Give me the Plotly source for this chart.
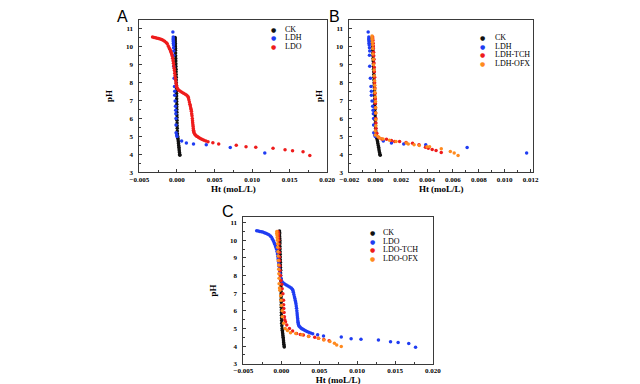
import plotly.graph_objects as go

# ---------------- data ----------------
ck_x = [-0.00025, -0.00025, -0.00024, -0.00024, -0.00023, -0.00022, -0.00021, -0.0002, -0.0002, -0.00019,
        -0.00018, -0.00017, -0.00016, -0.00015, -0.00014, -0.00013, -0.00012, -0.00011, -0.0001, -0.0001,
        -0.00009, -0.00008, -0.00007, -0.00006, -0.00005, -0.00005, -0.00004, -0.00004, -0.00003, -0.00003,
        -0.00002, -0.00002, -0.00001, 0.0, 0.0, 0.00001, 0.00002, 0.00003, 0.00004, 0.00006,
        0.0001, 0.00012, 0.00015, 0.00018, 0.0002, 0.00023, 0.00026, 0.00028, 0.0003, 0.00033,
        0.00036, 0.00038]
ck_y = [10.52, 10.45, 10.38, 10.3, 10.2, 10.1, 10.0, 9.9, 9.8, 9.65,
        9.5, 9.35, 9.2, 9.05, 8.9, 8.75, 8.6, 8.45, 8.3, 8.15,
        8.0, 7.85, 7.7, 7.55, 7.4, 7.25, 7.1, 6.95, 6.8, 6.65,
        6.5, 6.35, 6.2, 6.05, 5.9, 5.75, 5.6, 5.45, 5.3, 5.15,
        5.0, 4.9, 4.8, 4.7, 4.6, 4.5, 4.4, 4.3, 4.2, 4.1,
        4.0, 3.95]

ldh_x = [-0.00055, -0.0005, -0.0005, -0.0005, -0.00048, -0.00048, -0.00047, -0.00045, -0.00043, -0.00045,
         -0.00043, -0.00038, -0.00033, -0.0003, -0.0003, -0.00025, -0.0002, -0.00017, -0.00015, -0.00013,
         -0.00013, -0.00012, -0.00005, 0.0, 0.00062, 0.00125, 0.0022, 0.0039, 0.0071, 0.0117]
ldh_y = [10.83, 10.55, 10.45, 10.38, 10.3, 10.2, 10.1, 9.95, 9.77, 9.53,
         8.92, 8.24, 7.78, 7.52, 7.29, 6.97, 6.68, 6.46, 6.27, 6.0,
         5.63, 5.2, 5.08, 5.0, 4.75, 4.63, 4.58, 4.53, 4.38, 4.08]

ldo_x = [-0.00326, -0.00305, -0.00285, -0.00265, -0.00245, -0.00225, -0.00205, -0.00185, -0.00165, -0.00145,
         -0.0013, -0.00117, -0.00105, -0.00095, -0.00086, -0.00078, -0.00071, -0.00065, -0.00058, -0.00052,
         -0.00047, -0.00043, -0.00038, -0.00034, -0.0003, -0.00026, -0.00022, -0.00017, -0.00012, -0.00008,
         -0.00002, 0.0001, 0.00025, 0.00044, 0.00065, 0.00087, 0.0011, 0.0013, 0.00145, 0.00152,
         0.00158, 0.00165, 0.00172, 0.00178, 0.00183, 0.00188, 0.00192, 0.00196, 0.002, 0.00204,
         0.00207, 0.00209, 0.00212, 0.00215, 0.00217, 0.0022, 0.00223, 0.00226, 0.00235, 0.00245,
         0.00258, 0.0027, 0.00285, 0.003, 0.00318, 0.00338, 0.0036, 0.00385, 0.00413, 0.00478,
         0.00556, 0.0079, 0.0092, 0.0105, 0.0128, 0.0144, 0.0154, 0.0168, 0.0177]
ldo_y = [10.54, 10.52, 10.5, 10.48, 10.46, 10.43, 10.4, 10.36, 10.31, 10.24,
         10.17, 10.05, 9.95, 9.86, 9.77, 9.68, 9.59, 9.5, 9.36, 9.22,
         9.08, 8.94, 8.8, 8.67, 8.53, 8.39, 8.25, 8.11, 7.97, 7.84,
         7.74, 7.65, 7.58, 7.52, 7.46, 7.41, 7.35, 7.29, 7.22, 7.15,
         7.05, 6.92, 6.8, 6.7, 6.59, 6.5, 6.4, 6.27, 6.15, 6.0,
         5.88, 5.76, 5.65, 5.55, 5.44, 5.35, 5.27, 5.21, 5.13, 5.08,
         5.03, 4.99, 4.95, 4.91, 4.87, 4.83, 4.79, 4.75, 4.7, 4.64,
         4.58, 4.51, 4.42, 4.39, 4.34, 4.25, 4.2, 4.15, 3.93]

ldh_tch_x = [-0.0002, -0.0002, -0.00018, -0.00017, -0.00015, -0.00015, -0.00013, -0.00012, -0.0001, -0.0001,
             -0.00008, -0.00007, -0.00005, -0.00005, -0.00003, -0.00002, 0.0, 0.0, 0.00002, 0.00003,
             0.00004, 0.00005, 0.00005, 0.00012, 0.00025, 0.0005, 0.00087, 0.00125, 0.0015, 0.00188,
             0.00238, 0.00288, 0.00338, 0.00388, 0.0041, 0.0044, 0.0047, 0.0051]
ldh_tch_y = [10.55, 10.45, 10.35, 10.2, 10.05, 9.9, 9.7, 9.5, 9.3, 9.1,
             8.85, 8.6, 8.3, 8.0, 7.7, 7.4, 7.1, 6.85, 6.6, 6.3,
             6.0, 5.75, 5.44, 5.17, 4.95, 4.86, 4.84, 4.77, 4.72, 4.71,
             4.66, 4.62, 4.53, 4.4, 4.34, 4.27, 4.22, 4.1]

ldh_ofx_x = [-0.00025, -0.00025, -0.00024, -0.00022, -0.0002, -0.0002, -0.00018, -0.00015, -0.00013, -0.0001,
             -0.00008, -0.00005, -0.00004, -0.00003, -0.00002, 0.0, 0.00002, 0.00003, 0.00004, 0.00004,
             0.00004, 0.0, 0.0, 0.0002, 0.00037, 0.0006, 0.0011, 0.0016, 0.0024, 0.00255,
             0.003, 0.0034, 0.004, 0.0042, 0.0051, 0.0058, 0.0061, 0.0064]
ldh_ofx_y = [10.6, 10.5, 10.4, 10.25, 10.1, 9.9, 9.6, 9.3, 9.0, 8.7,
             8.39, 8.1, 7.85, 7.65, 7.45, 7.2, 6.95, 6.6, 6.3, 5.95,
             5.6, 5.3, 5.08, 4.99, 4.9, 4.85, 4.78, 4.71, 4.63, 4.58,
             4.54, 4.49, 4.43, 4.42, 4.31, 4.16, 4.07, 3.94]

ldo_tch_x = [-0.00045, -0.0004, -0.0004, -0.00038, -0.00035, -0.00032, -0.0003, -0.00027, -0.00025, -0.00023,
             -0.0002, -0.00018, -0.00012, -0.00005, 0.00005, 0.0001, 0.0002, 0.00028, 0.0003, 0.00032,
             0.00035, 0.0004, 0.00045, 0.00054, 0.00071, 0.00106, 0.00148, 0.002, 0.0025, 0.0029,
             0.0036, 0.0044, 0.0049, 0.0056, 0.0063]
ldo_tch_y = [10.49, 10.4, 10.3, 10.15, 10.0, 9.78, 9.55, 9.3, 9.05, 8.84,
             8.55, 8.28, 8.0, 7.72, 7.5, 7.25, 6.97, 6.6, 6.35, 6.13,
             5.9, 5.66, 5.5, 5.38, 5.19, 5.0, 4.85, 4.71, 4.66, 4.63,
             4.56, 4.5, 4.44, 4.37, 4.3]

ldo_ofx_x = [-0.0006, -0.0006, -0.00058, -0.00055, -0.00052, -0.0005, -0.00048, -0.00045, -0.00042, -0.0004,
             -0.00037, -0.00035, -0.00033, -0.0003, -0.0003, -0.00025, -0.0002, -0.0001, -0.00005, 0.0,
             0.0001, 0.00012, 0.0003, 0.0005, 0.0008, 0.0012, 0.0019, 0.0027, 0.0036, 0.0049,
             0.0056, 0.0064, 0.007, 0.0073, 0.0079]
ldo_ofx_y = [10.5, 10.4, 10.3, 10.15, 10.0, 9.8, 9.6, 9.35, 9.1, 8.85,
             8.6, 8.35, 8.1, 7.85, 7.53, 7.3, 7.16, 6.85, 6.6, 6.3,
             6.0, 5.66, 5.29, 5.0, 4.88, 4.76, 4.72, 4.65, 4.55, 4.44,
             4.35, 4.26, 4.16, 4.07, 3.98]

BLACK, BLUE, RED, ORANGE = "#111111", "#1f3cf2", "#ee1c1c", "#ff8a1e"

panels = [
    ("", [("CK", ck_x, ck_y, BLACK), ("LDH", ldh_x, ldh_y, BLUE), ("LDO", ldo_x, ldo_y, RED)]),
    ("2", [("CK", ck_x, ck_y, BLACK), ("LDH", ldh_x, ldh_y, BLUE),
           ("LDH-TCH", ldh_tch_x, ldh_tch_y, RED), ("LDH-OFX", ldh_ofx_x, ldh_ofx_y, ORANGE)]),
    ("3", [("CK", ck_x, ck_y, BLACK), ("LDO", ldo_x, ldo_y, BLUE),
           ("LDO-TCH", ldo_tch_x, ldo_tch_y, RED), ("LDO-OFX", ldo_ofx_x, ldo_ofx_y, ORANGE)]),
]

W, H = 640, 384
fig = go.Figure()
for suf, series in panels:
    for name, xs, ys, col in series:
        fig.add_trace(go.Scatter(x=xs, y=ys, mode="markers", name=name,
                                 marker=dict(size=3.5, color=col, line=dict(width=0)),
                                 xaxis="x" + suf, yaxis="y" + suf, showlegend=False))

tickfont = dict(family="Liberation Serif", size=7, color="black", weight="bold")
titlefont = dict(family="Liberation Serif", size=9, color="black", weight="bold")
LC = "#3a3a3a"


def xax(domain, rng, dtick, anchor):
    return dict(domain=domain, range=rng, dtick=dtick, tick0=0, tickformat=".3f", anchor=anchor,
                showline=True, mirror=True, linecolor=LC, linewidth=1, showgrid=False, zeroline=False,
                ticks="inside", ticklen=3, tickcolor=LC, tickfont=tickfont, ticklabelstandoff=0,
                minor=dict(ticks="inside", ticklen=2, tickcolor=LC, dtick=dtick / 2),
                title=dict(text="Ht (moL/L)", font=titlefont, standoff=0))


def yax(domain, rng, anchor):
    return dict(domain=domain, range=rng, dtick=1, anchor=anchor,
                showline=True, mirror=True, linecolor=LC, linewidth=1, showgrid=False, zeroline=False,
                ticks="inside", ticklen=3, tickcolor=LC, tickfont=tickfont, ticklabelstandoff=4,
                minor=dict(ticks="inside", ticklen=2, tickcolor=LC, dtick=0.5),
                title=dict(text="pH", font=titlefont, standoff=11))


def px(x):
    return x / W


def py(y):
    return 1 - y / H


fig.update_layout(
    width=W, height=H, autosize=False, margin=dict(l=0, r=0, t=0, b=0),
    paper_bgcolor="white", plot_bgcolor="white",
    xaxis=xax([px(125), px(318)], [-0.005, 0.020], 0.005, "y"),
    yaxis=yax([py(166), py(12)], [3, 11.5], "x"),
    xaxis2=xax([px(341), px(530)], [-0.002, 0.0122], 0.002, "y2"),
    yaxis2=yax([py(166), py(12)], [3, 11.5], "x2"),
    xaxis3=xax([px(232), px(427)], [-0.005, 0.020], 0.005, "y3"),
    yaxis3=yax([py(359.5), py(211.5)], [3, 11.3], "x3"),
)

annotations = []
for letter, lx, ly in [("A", 108, 9), ("B", 326, 9), ("C", 216, 206)]:
    annotations.append(dict(text=letter, x=px(lx), y=py(ly), xref="paper", yref="paper",
                            showarrow=False, xanchor="center", yanchor="middle",
                            font=dict(family="Liberation Sans", size=16, color="black")))

legend_pos = [(263.3, 272.7, [21.5, 30, 38.7]),
              (478.3, 488.3, [30, 38.7, 47.3, 56]),
              (365, 373.3, [226.7, 236, 244.3, 253.3])]
for (suf, series), (dx, tx, rows) in zip(panels, legend_pos):
    for (name, _, _, col), ry in zip(series, rows):
        annotations.append(dict(text="●", x=px(dx), y=py(ry), xref="paper", yref="paper",
                                showarrow=False, xanchor="center", yanchor="middle",
                                font=dict(family="DejaVu Sans", size=6, color=col)))
        annotations.append(dict(text=name, x=px(tx), y=py(ry), xref="paper", yref="paper",
                                showarrow=False, xanchor="left", yanchor="middle",
                                font=dict(family="Liberation Serif", size=8, color="black")))
fig.update_layout(annotations=annotations)

fig.write_html("out.html")
